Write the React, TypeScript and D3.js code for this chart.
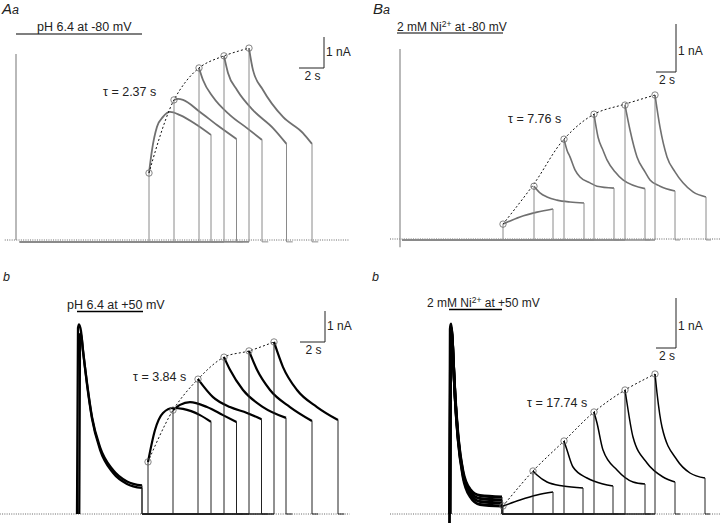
import React from 'react';
import * as d3 from 'd3';

type Pt = [number, number]; // [time (s), current (nA)]

// ---- Aa: pH 6.4 at -80 mV (sweeps)
const aaTraces: Pt[][] = [
  [[10.64, 2.16], [10.88, 2.9], [11.28, 3.65], [11.76, 3.97], [12.32, 4.13], [13.12, 4.03], [14.48, 3.71], [15.6, 3.39]],
  [[12.64, 4.52], [12.96, 4.55], [13.36, 4.52], [14.72, 4.13], [16.08, 3.71], [17.64, 3.26]],
  [[14.64, 5.55], [14.96, 5.16], [15.76, 4.61], [17.12, 4.03], [18.48, 3.61], [19.68, 3.23]],
  [[16.64, 5.94], [16.96, 5.39], [17.68, 4.84], [18.96, 4.19], [20.56, 3.61], [21.64, 3.1]],
  [[18.64, 6.19], [18.96, 5.48], [19.76, 4.84], [21.36, 3.97], [22.96, 3.45], [23.68, 3.1]],
];
const aaPeaks: Pt[] = [[10.64, 2.16], [12.64, 4.52], [14.64, 5.55], [16.64, 5.94], [18.64, 6.19]];
const aaFit: Pt[] = aaPeaks;
const aaApplication = [0, 10.08];

// ---- Ba: 2 mM Ni2+ at -80 mV
const baTraces: Pt[][] = [
  [[10.3, 0.31], [12.0, 0.46], [13.7, 0.56], [15.3, 0.625]],
  [[13.4, 1.1], [14.0, 0.96], [14.7, 0.875], [15.7, 0.81], [17.0, 0.77], [18.4, 0.75]],
  [[16.4, 2.08], [16.7, 1.85], [17.0, 1.71], [17.5, 1.44], [18.0, 1.29], [19.0, 1.17], [19.7, 1.1], [21.4, 1.06]],
  [[19.4, 2.6], [19.8, 2.125], [20.3, 1.85], [20.7, 1.65], [21.5, 1.4], [22.3, 1.23], [24.5, 1.05]],
  [[22.5, 2.79], [23.0, 2.27], [23.7, 1.71], [24.5, 1.4], [25.0, 1.23], [26.0, 1.1], [27.5, 1.0]],
  [[25.5, 3.0], [26.0, 2.33], [26.7, 1.71], [27.5, 1.4], [28.3, 1.17], [29.3, 0.98], [30.6, 0.875]],
];
const baPeaks: Pt[] = [[10.3, 0.31], [13.4, 1.1], [16.4, 2.08], [19.4, 2.6], [22.5, 2.79], [25.5, 3.0]];
// dotted fit curve as drawn
const baFit: Pt[] = [[10.3, 0.31], [13.4, 1.15], [16.4, 2.08], [19.4, 2.6], [22.5, 2.81], [25.5, 3.0]];
const baApplication = [-0.3, 10.3];

// ---- Ab: pH 6.4 at +50 mV
const abTraces: Pt[][] = [
  [[10.56, 1.68], [11.12, 2.71], [11.76, 3.26], [12.56, 3.42], [13.36, 3.39], [14.72, 3.19], [15.6, 2.97]],
  [[12.56, 3.35], [13.12, 3.52], [13.92, 3.61], [15.28, 3.45], [16.56, 3.19], [17.64, 2.97]],
  [[14.56, 4.35], [15.76, 3.77], [17.12, 3.45], [18.48, 3.26], [19.64, 3.06]],
  [[16.64, 5.06], [17.12, 4.65], [18.16, 4.0], [19.76, 3.45], [21.6, 3.1]],
  [[18.64, 5.26], [19.28, 4.65], [20.32, 4.0], [21.92, 3.45], [23.68, 3.0]],
  [[20.64, 5.55], [21.36, 4.74], [22.48, 4.0], [24.08, 3.45], [25.76, 3.03]],
];
const abPeaks: Pt[] = [[10.56, 1.68], [12.56, 3.35], [14.56, 4.35], [16.64, 5.06], [18.64, 5.26], [20.64, 5.55]];
const abFit: Pt[] = abPeaks;
const abTransients: Pt[][] = [
  [[4.88, 0], [4.96, 6.0], [5.04, 6.12], [5.2, 5.9], [5.36, 5.29], [5.68, 4.23], [6.08, 3.13], [6.72, 2.16], [7.76, 1.42], [8.88, 1.05], [10.08, 0.92]],
  [[5.06, 0], [5.12, 5.8], [5.2, 5.82], [5.36, 5.25], [5.68, 4.18], [6.08, 3.08], [6.72, 2.08], [7.76, 1.33], [8.88, 0.97], [10.08, 0.84]],
];
const abApplication = [4.88, 10.16];

// ---- Bb: 2 mM Ni2+ at +50 mV
const bbTraces: Pt[][] = [
  [[10.3, 0.16], [12.0, 0.28], [13.7, 0.38], [15.3, 0.44]],
  [[13.3, 0.86], [13.7, 0.78], [14.7, 0.64], [16.3, 0.56], [18.3, 0.52]],
  [[16.4, 1.46], [16.7, 1.28], [17.3, 0.94], [18.7, 0.72], [20.3, 0.6], [21.3, 0.56]],
  [[19.4, 2.04], [19.7, 1.82], [20.3, 1.28], [21.7, 0.88], [23.3, 0.64], [24.5, 0.6]],
  [[22.5, 2.48], [22.7, 2.22], [23.3, 1.54], [24.7, 1.02], [26.3, 0.74], [27.5, 0.64]],
  [[25.5, 2.8], [25.7, 2.42], [26.2, 1.74], [27.7, 1.08], [29.0, 0.82], [30.5, 0.72]],
];
const bbPeaks: Pt[] = [[10.3, 0.16], [13.3, 0.86], [16.4, 1.46], [19.4, 2.04], [22.5, 2.48], [25.5, 2.8]];
const bbFit: Pt[] = bbPeaks;
const bbTransients: Pt[][] = [
  [[4.95, -0.18], [5.02, 3.7], [5.1, 3.8], [5.2, 3.6], [5.35, 3.0], [5.5, 2.42], [5.8, 1.6], [6.3, 0.86], [7.0, 0.5], [8.0, 0.37], [10.2, 0.34]],
  [[4.99, 0], [5.05, 3.7], [5.12, 3.74], [5.22, 3.55], [5.36, 2.96], [5.5, 2.38], [5.8, 1.56], [6.3, 0.82], [7.0, 0.45], [8.0, 0.31], [10.2, 0.28]],
  [[5.0, 0], [5.06, 3.64], [5.13, 3.7], [5.23, 3.5], [5.37, 2.9], [5.51, 2.33], [5.8, 1.52], [6.3, 0.78], [7.0, 0.4], [8.0, 0.25], [10.2, 0.22]],
  [[5.0, 0], [5.06, 3.6], [5.14, 3.66], [5.24, 3.45], [5.38, 2.85], [5.52, 2.3], [5.8, 1.5], [6.3, 0.74], [7.0, 0.35], [8.0, 0.19], [10.2, 0.16]],
];
const bbApplication = [4.9, 10.2];

interface PanelSpec {
  traces: Pt[][];
  peaks: Pt[];
  fit: Pt[];
  transients: Pt[][];
  application: number[];
  artifact: Pt[] | null;
  holding: number;
  baseFrom: number;
  zeroLine: [number, number];
  x0: number; pxPerS: number; y0: number; pxPerNA: number;
  color: string; stepColor: string; width: number; transWidth: number;
  letter: string; sub: string; letterX: number; letterY: number;
  barY: number; text: React.ReactNode; textX: number; textY: number; textSize: number;
  tau: string; tauX: number; tauY: number;
  corner: [number, number]; nAdy: number;
}

const FONT = 'Liberation Sans, Arial, sans-serif';

function Ni(v: string) {
  return (
    <>
      2 mM Ni<tspan dy={-4.5} fontSize={8.5}>2+</tspan>
      <tspan dy={4.5}>{` at ${v} mV`}</tspan>
    </>
  );
}

const panels: PanelSpec[] = [
  {
    traces: aaTraces, peaks: aaPeaks, fit: aaFit, transients: [], application: aaApplication,
    artifact: [[0, 0], [0, 6.0]], holding: -0.06, baseFrom: 0.3, zeroLine: [-0.9, 26.7],
    x0: 16, pxPerS: 12.5, y0: 240, pxPerNA: 31,
    color: '#707070', stepColor: '#8a8a8a', width: 1.8, transWidth: 1.8,
    letter: 'A', sub: 'a', letterX: 2, letterY: 14,
    barY: 34, text: 'pH 6.4 at -80 mV', textX: 37, textY: 31, textSize: 12.5,
    tau: 'τ = 2.37 s', tauX: 103, tauY: 96, corner: [324, 68], nAdy: 3,
  },
  {
    traces: baTraces, peaks: baPeaks, fit: baFit, transients: [], application: baApplication,
    artifact: [[0, -0.17], [0, 3.96]], holding: -0.02, baseFrom: 0.2, zeroLine: [-1, 32],
    x0: 400, pxPerS: 10, y0: 239, pxPerNA: 48,
    color: '#707070', stepColor: '#8a8a8a', width: 1.6, transWidth: 1.6,
    letter: 'B', sub: 'a', letterX: 373, letterY: 14,
    barY: 33, text: Ni('-80'), textX: 397, textY: 31, textSize: 12,
    tau: 'τ = 7.76 s', tauX: 508, tauY: 123, corner: [676, 72], nAdy: 7,
  },
  {
    traces: abTraces, peaks: abPeaks, fit: abFit, transients: abTransients, application: abApplication,
    artifact: null, holding: 0, baseFrom: 10.08, zeroLine: [-1.3, 26.7],
    x0: 16, pxPerS: 12.5, y0: 514, pxPerNA: 31,
    color: '#000', stepColor: '#222', width: 2.2, transWidth: 2.3,
    letter: '', sub: 'b', letterX: 3, letterY: 281,
    barY: 311.5, text: 'pH 6.4 at +50 mV', textX: 67, textY: 309, textSize: 12.5,
    tau: 'τ = 3.84 s', tauX: 133, tauY: 381, corner: [325, 342], nAdy: 3.5,
  },
  {
    traces: bbTraces, peaks: bbPeaks, fit: bbFit, transients: bbTransients, application: bbApplication,
    artifact: null, holding: 0, baseFrom: 10.2, zeroLine: [-1, 32],
    x0: 400, pxPerS: 10, y0: 514, pxPerNA: 50,
    color: '#000', stepColor: '#222', width: 1.5, transWidth: 2.8,
    letter: '', sub: 'b', letterX: 372, letterY: 281,
    barY: 309.5, text: Ni('+50'), textX: 427, textY: 307, textSize: 12,
    tau: 'τ = 17.74 s', tauX: 527, tauY: 407, corner: [676, 348], nAdy: 7,
  },
];

function Panel({ p }: { p: PanelSpec }) {
  const x = d3.scaleLinear().domain([0, 30]).range([p.x0, p.x0 + 30 * p.pxPerS]);
  const y = d3.scaleLinear().domain([0, 1]).range([p.y0, p.y0 - p.pxPerNA]);
  const curve = d3.line<Pt>().x((d) => x(d[0])).y((d) => y(d[1])).curve(d3.curveMonotoneX);
  const smooth = d3.line<Pt>().x((d) => x(d[0])).y((d) => y(d[1])).curve(d3.curveCatmullRom.alpha(0.5));
  const poly = d3.line<Pt>().x((d) => x(d[0])).y((d) => y(d[1]));

  const [cx, cy] = p.corner;
  const sPx = x(2) - x(0);
  const nAPx = y(0) - y(1);

  return (
    <g>
      {/* zero-current dotted line */}
      <line x1={x(p.zeroLine[0])} x2={x(p.zeroLine[1])} y1={y(0)} y2={y(0)}
        stroke="#555" strokeWidth={0.9} strokeDasharray="1 1.3" />

      {p.artifact && (
        <path d={poly(p.artifact) ?? ''} stroke={p.stepColor} strokeWidth={1.2} fill="none" />
      )}

      {p.transients.map((t, i) => {
        const last = t[t.length - 1];
        return (
          <g key={'tr' + i}>
            <path d={curve(t) ?? ''} stroke={p.color} strokeWidth={p.transWidth} fill="none" strokeLinejoin="round" />
            <path d={poly([last, [last[0], 0]]) ?? ''} stroke={p.stepColor} strokeWidth={1} fill="none" />
          </g>
        );
      })}

      {p.traces.map((tr, i) => {
        const [ts, i0] = tr[0];
        const [te, ie] = tr[tr.length - 1];
        return (
          <g key={i}>
            <path d={poly([[p.baseFrom, p.holding], [ts, p.holding]]) ?? ''} stroke={p.stepColor} strokeWidth={1.6} fill="none" />
            <path d={poly([[ts, p.holding], [ts, i0]]) ?? ''} stroke={p.stepColor} strokeWidth={1} fill="none" />
            <path d={curve(tr) ?? ''} stroke={p.color} strokeWidth={p.width} fill="none" strokeLinejoin="round" />
            <path d={poly([[te, ie], [te, p.holding], [te + 0.5, p.holding]]) ?? ''} stroke={p.stepColor} strokeWidth={1} fill="none" />
          </g>
        );
      })}

      {/* exponential fit through sweep peaks */}
      <path d={smooth(p.fit) ?? ''} stroke="#111" strokeWidth={1} strokeDasharray="2 2.2" fill="none" />
      {p.peaks.map((d, i) => (
        <circle key={'pk' + i} cx={x(d[0])} cy={y(d[1])} r={3.2} fill="none" stroke="#666" strokeWidth={0.8} />
      ))}

      {/* application bar and label */}
      <line x1={x(p.application[0])} x2={x(p.application[1])} y1={p.barY} y2={p.barY}
        stroke={p.color === '#000' ? '#000' : '#555'} strokeWidth={1.5} />
      <text x={p.textX} y={p.textY} fontSize={p.textSize} fontFamily={FONT} fill="#222">{p.text}</text>

      <text x={p.tauX} y={p.tauY} fontSize={12.5} fontFamily={FONT} fill="#222">{p.tau}</text>

      {/* scale bars */}
      <path d={`M${cx - sPx},${cy}H${cx}V${cy - nAPx}`} stroke="#222" strokeWidth={1} fill="none" />
      <text x={cx + 2} y={cy - nAPx / 2 + p.nAdy} fontSize={12} fontFamily={FONT} fill="#222">1 nA</text>
      <text x={cx - sPx / 2 + 1} y={cy + 11.5} fontSize={12} fontFamily={FONT} fill="#222" textAnchor="middle">2 s</text>

      {/* panel letter */}
      <text x={p.letterX} y={p.letterY} fontFamily={FONT} fontStyle="italic" fill="#222">
        {p.letter && <tspan fontSize={15}>{p.letter}</tspan>}
        <tspan fontSize={12.5}>{p.sub}</tspan>
      </text>
    </g>
  );
}

export default function App() {
  return (
    <svg width={720} height={524} style={{ position: 'absolute', left: 0, top: 0, background: '#fff' }}>
      <rect width={720} height={524} fill="#fff" />
      {panels.map((p, i) => (
        <Panel key={i} p={p} />
      ))}
    </svg>
  );
}
